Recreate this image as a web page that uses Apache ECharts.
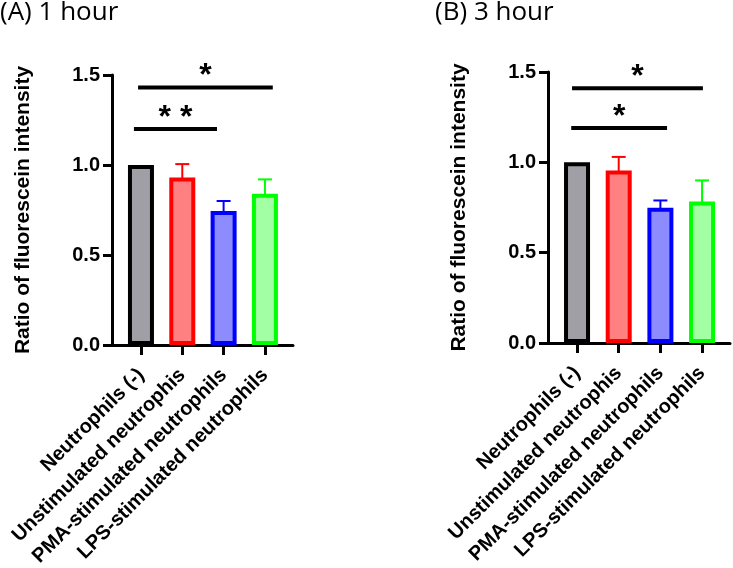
<!DOCTYPE html>
<html><head><meta charset="utf-8">
<script src="https://cdn.jsdelivr.net/npm/echarts@6/dist/echarts.min.js"></script>
<style>html,body{margin:0;padding:0;background:#fff}#c{width:733px;height:568px}</style>
</head><body><div id="c"></div><script>
// ---- data ----
const categories = ['Neutrophils (-)', 'Unstimulated neutrophis', 'PMA-stimulated neutrophils', 'LPS-stimulated neutrophils'];
const panelTitles = ['(A) 1 hour', '(B) 3 hour'];
const yAxisName = 'Ratio of fluorescein intensity';
const yMin = 0, yMax = 1.5, yStep = 0.5;
const meanA = [1.00, 0.93, 0.745, 0.84];
const errA  = [0, 0.075, 0.055, 0.08];
const meanB = [1.00, 0.955, 0.748, 0.783];
const errB  = [0, 0.075, 0.041, 0.117];
// significance brackets: [from (category units), to (category units), y value, label]
const sigA = [[-0.17, 1.84, 1.20, '* *'], [-0.07, 3.19, 1.43, '*']];
const sigB = [[-0.14, 2.16, 1.19, '*'], [-0.12, 3.02, 1.41, '*']];

// ---- style ----
const borderColors = ['#000000', '#FF0000', '#0000FF', '#00FF00'];
const fillColors = ['#A09FA6', '#FF8080', '#8C8CFF', '#A3FFA3'];
const FONT = '"Liberation Sans", Arial, sans-serif';
const panels = [
  {left: 120.3, width: 165.3, top: 75, height: 270, lineLeft: 110.5, lineWidth: 182.5, titleLeft: 0, mean: meanA, err: errA, sig: sigA},
  {left: 556.2, width: 166.7, top: 72, height: 271, lineLeft: 546.5, lineWidth: 183.5, titleLeft: 435, mean: meanB, err: errB, sig: sigB}
];

const grid = [], xAxis = [], yAxis = [], series = [], title = [];
panels.forEach((p, i) => {
  grid[i] = {left: p.left, width: p.width, top: p.top, height: p.height, outerBoundsMode: 'none', containLabel: false};
  grid[i + 2] = {left: p.lineLeft, width: p.lineWidth, top: p.top, height: p.height, outerBoundsMode: 'none', containLabel: false};
  title.push({text: panelTitles[i], left: p.titleLeft, top: 0, padding: 0,
    textStyle: {fontFamily: '"Open Sans", sans-serif', fontSize: 26, fontWeight: 'normal', color: '#000'}});
  xAxis[i] = {
    type: 'category', gridIndex: i, data: categories,
    axisLine: {show: false},
    axisTick: {show: true, alignWithLabel: true, length: 10, lineStyle: {width: 3, color: '#000'}},
    axisLabel: {interval: 0, rotate: 45, margin: 27, fontSize: 20, fontWeight: 'bold', color: '#000', fontFamily: FONT},
    splitLine: {show: false}
  };
  yAxis[i] = {
    type: 'value', gridIndex: i, min: yMin, max: yMax, interval: yStep,
    offset: p.left - p.lineLeft - 1.5,
    axisLine: {show: true, lineStyle: {width: 3, color: '#000'}},
    axisTick: {show: true, length: 9, lineStyle: {width: 3, color: '#000'}},
    axisLabel: {margin: 12, fontSize: 20, fontWeight: 'bold', color: '#000', fontFamily: FONT, formatter: v => v.toFixed(1)},
    splitLine: {show: false},
    name: yAxisName, nameLocation: 'middle', nameGap: 78,
    nameTextStyle: {fontSize: 21, fontWeight: 'bold', color: '#000', fontFamily: FONT}
  };
  xAxis[i + 2] = {type: 'value', gridIndex: i + 2, min: 0, max: 1,
    axisLine: {show: true, lineStyle: {width: 3, color: '#000'}},
    axisTick: {show: false}, axisLabel: {show: false}, splitLine: {show: false}};
  yAxis[i + 2] = {type: 'value', gridIndex: i + 2, show: false};

  series.push({
    type: 'bar', xAxisIndex: i, yAxisIndex: i, barWidth: 26, z: 2,
    data: p.mean.map((v, k) => ({value: v, itemStyle: {color: fillColors[k], borderColor: borderColors[k], borderWidth: 4}}))
  });
  series.push({
    type: 'custom', xAxisIndex: i, yAxisIndex: i, z: 3,
    encode: {x: 0, y: [1, 2]},
    data: p.mean.map((m, k) => [k, m, m + p.err[k]]),
    renderItem: (params, api) => {
      const k = api.value(0);
      const base = api.coord([k, api.value(1)]);
      const top = api.coord([k, api.value(2)]);
      if (top[1] >= base[1] - 0.5) return null;
      const c = borderColors[k], half = 7;
      return {type: 'group', children: [
        {type: 'line', shape: {x1: base[0], y1: base[1] + 2, x2: top[0], y2: top[1]}, style: {stroke: c, lineWidth: 2}},
        {type: 'line', shape: {x1: top[0] - half, y1: top[1], x2: top[0] + half, y2: top[1]}, style: {stroke: c, lineWidth: 2}}
      ]};
    }
  });
  series.push({
    type: 'custom', xAxisIndex: i, yAxisIndex: i, z: 4, clip: false,
    encode: {x: 0, y: 1},
    data: p.sig.map(s => [0, s[2], s[0], s[1]]),
    renderItem: (params, api) => {
      const c0 = api.coord([0, api.value(1)]);
      const band = api.size([1, 0])[0];
      const x1 = c0[0] + api.value(2) * band, x2 = c0[0] + api.value(3) * band, y = c0[1];
      return {type: 'group', children: [
        {type: 'line', shape: {x1, y1: y, x2, y2: y}, style: {stroke: '#000', lineWidth: 4}},
        {type: 'text', x: (x1 + x2) / 2, y: y - 11, style: {text: p.sig[params.dataIndex][3], fontSize: 32, fontWeight: 'bold', fontFamily: FONT, fill: '#000', align: 'center', verticalAlign: 'middle'}}
      ]};
    }
  });
});

const chart = echarts.init(document.getElementById('c'), null, {renderer: 'canvas'});
chart.setOption({animation: false, backgroundColor: '#fff', title, grid, xAxis, yAxis, series});
</script></body></html>
